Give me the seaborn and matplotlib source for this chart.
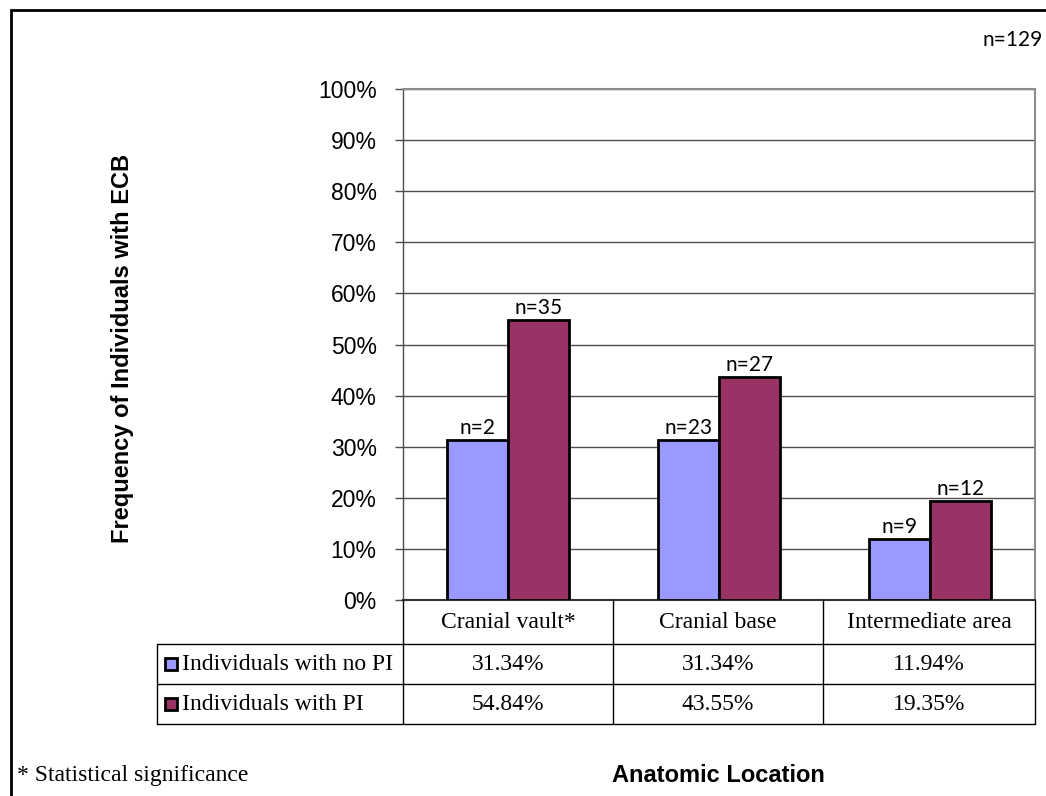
import matplotlib
matplotlib.use("Agg")
import matplotlib.pyplot as plt
from matplotlib.patches import Rectangle
from matplotlib.lines import Line2D
import seaborn as sns
import pandas as pd

# Data
locations = ["Cranial vault*", "Cranial base", "Intermediate area"]
groups = ["Individuals with no PI", "Individuals with PI"]
pct_no_pi = [31.34, 31.34, 11.94]
pct_pi = [54.84, 43.55, 19.35]
n_no_pi = [2, 23, 9]
n_pi = [35, 27, 12]
y_ticks = [0, 10, 20, 30, 40, 50, 60, 70, 80, 90, 100]
colors = ["#9999FF", "#993366"]

df = pd.DataFrame({
    "location": locations * 2,
    "group": [groups[0]] * 3 + [groups[1]] * 3,
    "pct": pct_no_pi + pct_pi,
    "n": n_no_pi + n_pi,
})

sns.set_theme(style="white")
plt.rcParams["font.family"] = ["Liberation Sans", "DejaVu Sans"]
plt.rcParams["text.color"] = "black"
plt.rcParams["ytick.color"] = "black"
plt.rcParams["ytick.labelcolor"] = "black"

W, H = 1046, 796
fig = plt.figure(figsize=(W / 100, H / 100), dpi=100)

def fx(x):
    return x / W

def fy(y):
    return 1 - y / H

ax_l, ax_r, ax_t, ax_b = 403, 1035, 89, 600
ax = fig.add_axes([fx(ax_l), fy(ax_b), fx(ax_r - ax_l), (ax_b - ax_t) / H])

sns.barplot(data=df, x="location", y="pct", hue="group", order=locations,
            hue_order=groups, palette=colors, width=0.58, saturation=1,
            edgecolor="black", linewidth=2, legend=False, ax=ax, zorder=3)

ax.set_ylim(0, 100)
ax.set_xlim(-0.5, 2.5)
ax.set_yticks(y_ticks)
ax.set_yticklabels([f"{t}%" for t in y_ticks], fontsize=16.5, color="black")
ax.set_xticks([])
ax.set_xlabel("")
ax.set_ylabel("")
for t in y_ticks[1:]:
    ax.axhline(t, color="#4d4d4d", lw=1, zorder=1)
ax.tick_params(axis="y", left=True, length=6, width=1, color="#4d4d4d", pad=13)
for side in ["top", "right"]:
    ax.spines[side].set_color("#8c8c8c")
    ax.spines[side].set_linewidth(1.5)
ax.spines["left"].set_color("#4d4d4d")
ax.spines["left"].set_linewidth(1)
ax.spines["bottom"].set_color("#333333")
ax.spines["bottom"].set_linewidth(1.5)

# Count labels on top of bars
for cont, counts in zip(ax.containers, [n_no_pi, n_pi]):
    ax.bar_label(cont, labels=[f"n={c}" for c in counts], padding=1.5,
                 fontsize=15, color="black", family=["Lato", "DejaVu Sans"])

# Data table under the chart
line_kw = dict(color="black", lw=1, transform=fig.transFigure)
col_x = [403, 613, 823, 1035]
row_y = [600, 644, 684, 724]
leg_l = 157
for y in row_y[1:]:
    fig.add_artist(Line2D([fx(leg_l), fx(col_x[-1])], [fy(y), fy(y)], **line_kw))
for x in col_x:
    fig.add_artist(Line2D([fx(x), fx(x)], [fy(row_y[0]), fy(row_y[-1])], **line_kw))
fig.add_artist(Line2D([fx(leg_l), fx(leg_l)], [fy(row_y[1]), fy(row_y[-1])], **line_kw))

serif = ["Liberation Serif", "DejaVu Serif"]
for i, loc in enumerate(locations):
    cx = (col_x[i] + col_x[i + 1]) / 2
    fig.text(fx(cx), fy((row_y[0] + row_y[1]) / 2), loc, ha="center",
             va="center", fontsize=17, family=serif)
    for r, vals in enumerate([pct_no_pi, pct_pi]):
        fig.text(fx(cx), fy((row_y[r + 1] + row_y[r + 2]) / 2),
                 f"{vals[i]:.2f}%", ha="center", va="center", fontsize=17,
                 family=serif)

for r, (g, c) in enumerate(zip(groups, colors)):
    yc = (row_y[r + 1] + row_y[r + 2]) / 2
    fig.add_artist(Rectangle((fx(leg_l + 8), fy(yc + 6)), fx(12), 12 / H,
                             facecolor=c, edgecolor="black", lw=2,
                             transform=fig.transFigure))
    fig.text(fx(leg_l + 25), fy(yc), g, ha="left", va="center", fontsize=17,
             family=serif)

# Axis titles and notes
fig.text(fx(123), fy(348), "Frequency of Individuals with ECB", rotation=90,
         ha="center", va="center", fontsize=17, fontweight="bold")
fig.text(fx(718), fy(775), "Anatomic Location", ha="center", va="center",
         fontsize=17, fontweight="bold")
fig.text(fx(17), fy(775), "* Statistical significance", ha="left",
         va="center", fontsize=17, family=serif)
fig.text(fx(1043), fy(40), "n=129", ha="right", va="center", fontsize=15,
         family=["Lato", "DejaVu Sans"])

# Outer frame
fig.add_artist(Rectangle((fx(11), fy(H + 20)), fx(W + 20), (H + 20 - 10) / H,
                         facecolor="none", edgecolor="black", lw=2,
                         transform=fig.transFigure))

fig.savefig("out.png", dpi=100)
